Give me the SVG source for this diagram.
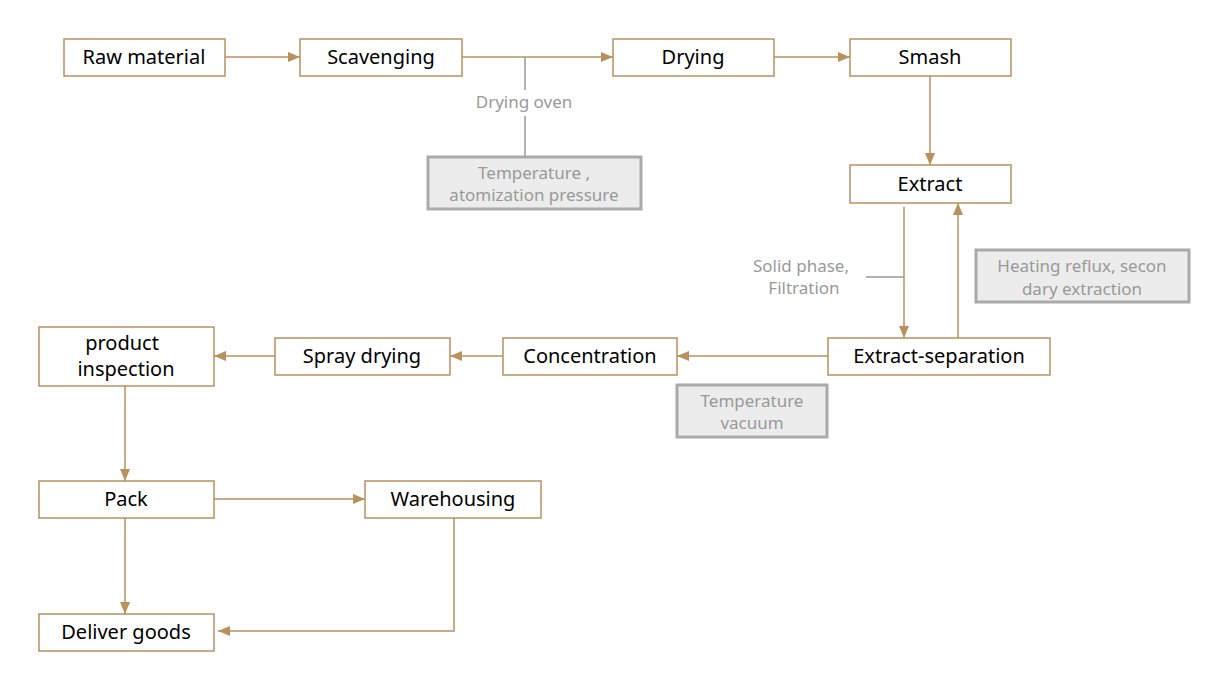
<svg xmlns="http://www.w3.org/2000/svg" width="1226" height="687" viewBox="0 0 1226 687">
<style>
.n rect{fill:#fff;stroke:#b8915e;stroke-width:1.5}
.n text{font-family:"Noto Sans","Open Sans",sans-serif;font-size:20px;fill:#000;text-anchor:middle}
.g rect{fill:#ececec;stroke:#aaa;stroke-width:3}
.g text,.lbl{font-family:"Noto Sans","Open Sans",sans-serif;font-size:17px;fill:#999;text-anchor:middle}
.c{stroke:#b8915e;stroke-width:1.5;fill:none;marker-end:url(#a)}
.gl{stroke:#999;stroke-width:1.5;fill:none}
</style>
<defs><marker id="a" markerWidth="12" markerHeight="10" refX="12" refY="5" orient="auto" markerUnits="userSpaceOnUse"><path d="M0,0L12,5L0,10z" fill="#b8915e"/></marker></defs>
<rect width="1226" height="687" fill="#fff"/>
<g id="connectors">
<path class="c" d="M225,57H300"/>
<path class="c" d="M462,57H613"/>
<path class="c" d="M774,57H850"/>
<path class="c" d="M930,76V165"/>
<path class="c" d="M904,207V338"/>
<path class="c" d="M958,338V203"/>
<path class="c" d="M828,356H677"/>
<path class="c" d="M503,356H450"/>
<path class="c" d="M275,356H214"/>
<path class="c" d="M125,386V481"/>
<path class="c" d="M214,499H365"/>
<path class="c" d="M125,518V614"/>
<path class="c" d="M454,518V631H218"/>
<path class="gl" d="M525,57V90M525,116V157"/>
<path class="gl" d="M866,277H904"/>
<text class="lbl" x="524" y="108">Drying oven</text>
<text class="lbl" x="801" y="272">Solid phase,</text>
<text class="lbl" x="804" y="294">Filtration</text>
</g>
<g id="raw" class="n"><rect x="64" y="39" width="161" height="37"/><text x="144" y="64">Raw material</text></g>
<g id="scav" class="n"><rect x="300" y="39" width="162" height="37"/><text x="381" y="64">Scavenging</text></g>
<g id="drying" class="n"><rect x="613" y="39" width="161" height="37"/><text x="693" y="64">Drying</text></g>
<g id="smash" class="n"><rect x="850" y="39" width="161" height="37"/><text x="930" y="64">Smash</text></g>
<g id="extract" class="n"><rect x="850" y="165" width="161" height="38"/><text x="930" y="191">Extract</text></g>
<g id="exsep" class="n"><rect x="828" y="338" width="222" height="37"/><text x="939" y="363">Extract-separation</text></g>
<g id="conc" class="n"><rect x="503" y="338" width="174" height="37"/><text x="590" y="363">Concentration</text></g>
<g id="spray" class="n"><rect x="275" y="338" width="175" height="37"/><text x="362" y="363">Spray drying</text></g>
<g id="inspect" class="n"><rect x="39" y="327" width="175" height="59"/><text x="122" y="350">product</text><text x="126" y="376">inspection</text></g>
<g id="pack" class="n"><rect x="39" y="481" width="175" height="37"/><text x="126" y="506">Pack</text></g>
<g id="ware" class="n"><rect x="365" y="481" width="176" height="37"/><text x="453" y="506">Warehousing</text></g>
<g id="deliver" class="n"><rect x="39" y="614" width="175" height="37"/><text x="126" y="639">Deliver goods</text></g>
<g id="note1" class="g"><rect x="428" y="157" width="213" height="52"/><text x="534" y="179">Temperature ,</text><text x="534" y="201">atomization pressure</text></g>
<g id="note2" class="g"><rect x="976" y="250" width="213" height="52"/><text x="1082" y="272">Heating reflux, secon</text><text x="1082" y="295">dary extraction</text></g>
<g id="note3" class="g"><rect x="677" y="385" width="150" height="52"/><text x="752" y="407">Temperature</text><text x="752" y="429">vacuum</text></g>
</svg>
